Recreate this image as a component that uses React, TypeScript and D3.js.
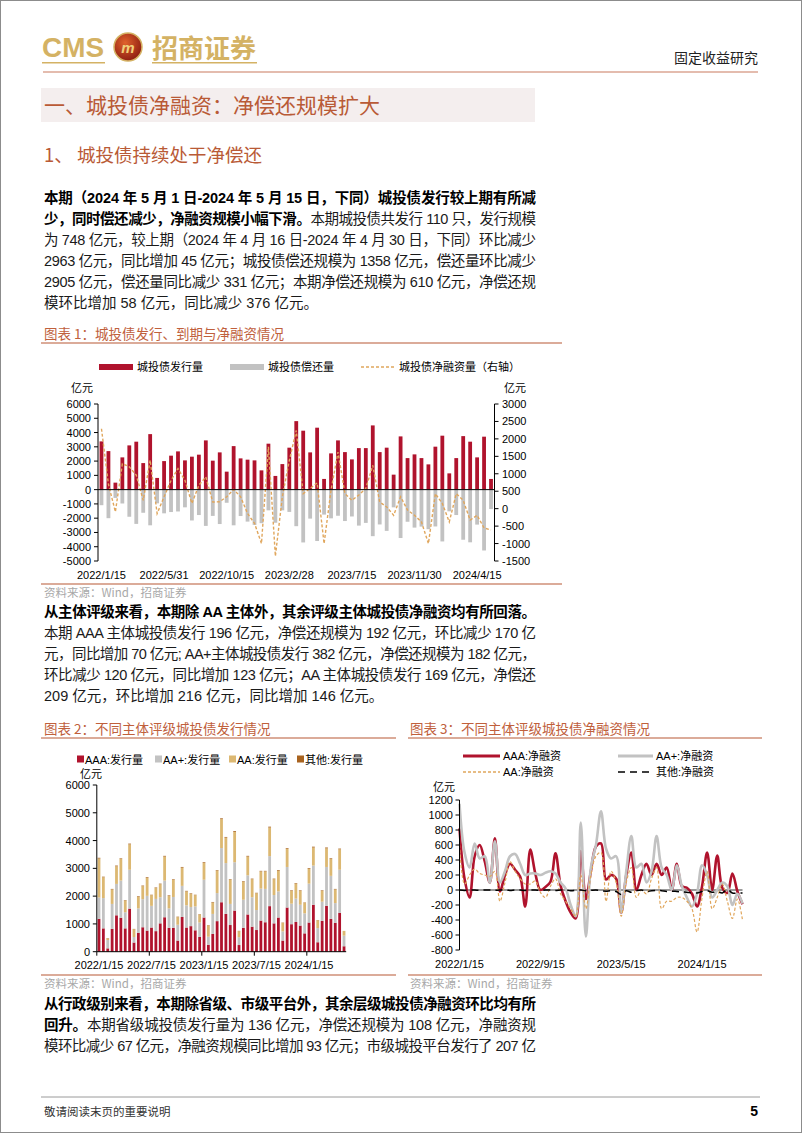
import React from 'react'
import * as d3 from 'd3'

// semi-monthly periods, 2022/1/15 .. 2024/5/15
const periods = [
  '2022/1/15', '2022/1/31', '2022/2/15', '2022/2/28', '2022/3/15', '2022/3/31', '2022/4/15', '2022/4/30',
  '2022/5/15', '2022/5/31', '2022/6/15', '2022/6/30', '2022/7/15', '2022/7/31', '2022/8/15', '2022/8/31',
  '2022/9/15', '2022/9/30', '2022/10/15', '2022/10/31', '2022/11/15', '2022/11/30', '2022/12/15', '2022/12/31',
  '2023/1/15', '2023/1/31', '2023/2/15', '2023/2/28', '2023/3/15', '2023/3/31', '2023/4/15', '2023/4/30',
  '2023/5/15', '2023/5/31', '2023/6/15', '2023/6/30', '2023/7/15', '2023/7/31', '2023/8/15', '2023/8/31',
  '2023/9/15', '2023/9/30', '2023/10/15', '2023/10/31', '2023/11/15', '2023/11/30', '2023/12/15', '2023/12/31',
  '2024/1/15', '2024/1/31', '2024/2/15', '2024/2/29', '2024/3/15', '2024/3/31', '2024/4/15', '2024/4/30',
  '2024/5/15',
]

// chart 1: issuance / repayment (left axis), net financing (right axis)
const issue = [3380, 2700, 490, 2260, 3100, 3360, 1860, 3890, 820, 2000, 2380, 2680, 2050, 2310, 2450, 3450, 2030, 2610, 1260, 3050,
  2190, 2100, 2050, 1350, 3220, 960, 1790, 2940, 4800, 4130, 2610, 4340, 750, 2540, 3450, 2630, 2120, 2910, 2910, 4500,
  2630, 2940, 1050, 3730, 2210, 2470, 2210, 1770, 3010, 3780, 1140, 2210, 3750, 3360, 2260, 3711, 748]
const repay = [1090, 2000, 580, 970, 1900, 2400, 1620, 2500, 960, 1660, 1570, 1530, 1240, 2160, 1780, 2540, 1840, 2410, 920, 2500,
  1850, 2240, 2470, 2350, 1450, 2320, 1450, 1560, 2560, 3700, 2030, 3600, 1750, 2010, 1830, 2200, 1880, 2520, 2330, 3260,
  2440, 2890, 1240, 3390, 2250, 2660, 2590, 2770, 2580, 3630, 1520, 1780, 3510, 3690, 2450, 4263, 1358]
const net = [2290, 700, -90, 1290, 1200, 960, 240, 1390, -140, 340, 810, 1150, 810, 150, 670, 910, 190, 200, 340, 550,
  340, -140, -420, -1000, 1770, -1360, 340, 1380, 2240, 430, 580, 740, -1000, 530, 1620, 430, 240, 390, 580, 1240,
  190, 50, -190, 340, -40, -190, -380, -1000, 430, 150, -380, 430, 240, -330, -190, -552, -610]

// chart 2: issuance by issuer rating
const aaaIssue = [1180, 840, 120, 820, 1310, 1220, 840, 1550, 330, 680, 880, 760, 870, 740, 1020, 1240, 860, 860, 400, 1250,
  870, 920, 770, 530, 1230, 250, 640, 1100, 1780, 1360, 960, 1480, 240, 860, 1340, 900, 780, 1120, 1060, 1640,
  1020, 1230, 400, 1590, 990, 1070, 940, 660, 1050, 1690, 340, 1110, 1650, 1180, 1040, 1400, 196]
const aaPlusIssue = [770, 1090, 300, 900, 1130, 1340, 580, 1400, 200, 880, 1010, 1250, 780, 1160, 940, 1320, 700, 1110, 570, 1120,
  800, 690, 860, 520, 1360, 290, 720, 1010, 1950, 1830, 760, 1740, 280, 1010, 1410, 1060, 720, 1150, 1200, 1800,
  1020, 940, 330, 1460, 740, 840, 750, 720, 1400, 1410, 510, 690, 1400, 1550, 710, 1550, 382]
const aaIssue = [1405, 750, 60, 520, 635, 780, 425, 915, 280, 420, 470, 645, 385, 390, 470, 865, 450, 620, 275, 655,
  500, 470, 405, 285, 605, 410, 410, 810, 1040, 915, 870, 1090, 220, 650, 675, 650, 605, 620, 630, 1030,
  570, 745, 310, 655, 460, 540, 500, 375, 535, 650, 280, 390, 670, 605, 490, 736, 169]
const otherIssue = [25, 20, 10, 20, 25, 20, 15, 25, 10, 20, 20, 25, 15, 20, 20, 25, 20, 20, 15, 25,
  20, 20, 15, 15, 25, 10, 20, 20, 30, 25, 20, 30, 10, 20, 25, 20, 15, 20, 20, 30,
  20, 25, 10, 25, 20, 20, 20, 15, 25, 30, 10, 20, 30, 25, 20, 25, 1]

// chart 3: net financing by issuer rating
const aaaNet = [820, 150, -100, 450, 600, 380, 100, 690, -20, 200, 350, 270, 180, -220, 540, 220, 0, 40, 110, 490,
  60, -150, -300, -380, 520, -120, 250, 580, 620, 140, 200, 150, -300, 200, 500, 0, 200, 350, 200, 350,
  200, 300, 0, 350, 50, 30, -50, -220, 50, 500, 0, 460, 30, -40, 220, -20, -190]
const aaPlusNet = [1150, 500, 300, 620, 420, 450, 100, 650, 100, 250, 450, 480, 350, 200, 220, 220, 200, 230, 250, 220,
  100, 20, -200, -350, 900, -620, 300, 600, 1050, 550, 420, 450, -300, 250, 720, 300, 350, 100, 250, 720,
  300, 200, 0, 330, 50, -100, -220, -50, 330, 200, -100, 0, 100, 50, -200, -50, -182]
const aaNet = [600, 80, 200, 280, 220, 200, 180, 250, -150, 100, 380, 250, 150, 80, 80, 120, -30, -100, 50, 150,
  -50, -150, -250, -350, 200, -250, 200, 450, 500, -150, 250, 100, -350, 100, 300, -100, 0, -50, 150, 300,
  -250, -150, -150, -100, -100, -150, -250, -560, -100, 250, -250, -100, 80, -150, -380, -120, -400]
const otherNet = [0, -5, 0, 0, -5, 0, 0, -5, 0, 0, -5, 0, 0, -5, 0, 0, -5, 0, 0, -5,
  0, 0, -10, -5, 0, -10, -5, 0, -10, -15, -10, -20, -60, -10, -30, -10, 0, -20, -10, -5,
  -10, -20, -15, -20, -25, -30, -40, -40, -20, -10, -30, -20, -40, 10, -40, -40, -40]

// tick labels
const c1Dates = ['2022/1/15', '2022/5/31', '2022/10/15', '2023/2/28', '2023/7/15', '2023/11/30', '2024/4/15']
const c2Dates = ['2022/1/15', '2022/7/15', '2023/1/15', '2023/7/15', '2024/1/15']
const c3Dates = ['2022/1/15', '2022/9/15', '2023/5/15', '2024/1/15']
const c1Left = [6000, 5000, 4000, 3000, 2000, 1000, 0, -1000, -2000, -3000, -4000, -5000]
const c1Right = [3000, 2500, 2000, 1500, 1000, 500, 0, -500, -1000, -1500]
const c2Ticks = [0, 1000, 2000, 3000, 4000, 5000, 6000]
const c3Ticks = [1200, 1000, 800, 600, 400, 200, 0, -200, -400, -600, -800]

const SANS = '"Liberation Sans", "Noto Sans CJK SC", sans-serif'
const CJK = '"Noto Sans CJK SC", "Liberation Sans", sans-serif'
const GOLD = '#d4b264'
const RUST = '#b95a36'
const RED = '#b0132d'
const GREY = '#c2c2c2'
const TAN = '#dcb872'
const BROWN = '#a8631f'
const DASH = '#e0a65c'
const RULE = '#cf8f77'

const idx = d3.range(periods.length)

type Part = [string, boolean?]
function TextLine({ x, y, parts, w }: { x: number; y: number; parts: Part[]; w?: number }) {
  return (
    <text x={x} y={y} fontSize={14.5} fontFamily={SANS} fill="#1a1a1a" dominantBaseline="central"
      {...(w ? { textLength: w, lengthAdjust: 'spacing' } : {})}>
      {parts.map(([t, b], i) => (
        <tspan key={i} fontWeight={b ? 'bold' : 'normal'} fill={b ? '#000' : '#1a1a1a'}>{t}</tspan>
      ))}
    </text>
  )
}

function Chart1() {
  const x = d3.scaleBand<number>().domain(idx).range([98, 494.5])
  const cx = (i: number) => (x(i) as number) + x.bandwidth() / 2
  const y = d3.scaleLinear().domain([-5000, 6000]).range([561, 404])
  const yr = d3.scaleLinear().domain([-1500, 3000]).range([561, 404])
  const netPath = d3.line<number>().x((_, i) => cx(i)).y(d => yr(d))(net) as string
  const bw = 3.8
  return (
    <g fontFamily={SANS} fontSize={11} fill="#000">
      {/* legend */}
      <rect x={99} y={364} width={34} height={6} fill={RED} />
      <text x={137} y={367} dominantBaseline="central">城投债发行量</text>
      <rect x={230} y={364} width={34} height={6} fill={GREY} />
      <text x={268} y={367} dominantBaseline="central">城投债偿还量</text>
      <line x1={361} x2={395} y1={367} y2={367} stroke={DASH} strokeWidth={1.3} strokeDasharray="3,2" />
      <text x={399} y={367} dominantBaseline="central">城投债净融资量（右轴）</text>
      <text x={82} y={388} textAnchor="middle" dominantBaseline="central">亿元</text>
      <text x={515} y={388} textAnchor="middle" dominantBaseline="central">亿元</text>

      {idx.map(i => (
        <rect key={'r' + i} x={cx(i) - bw / 2} y={y(issue[i])} width={bw} height={y(0) - y(issue[i])} fill={RED} />
      ))}
      {idx.map(i => (
        <rect key={'g' + i} x={cx(i) - bw / 2} y={y(0)} width={bw} height={y(-repay[i]) - y(0)} fill={GREY} />
      ))}
      <path d={netPath} fill="none" stroke={DASH} strokeWidth={1.4} strokeDasharray="3,2" />

      {/* axes */}
      <line x1={98} x2={98} y1={404} y2={561} stroke="#000" />
      {c1Left.map(t => (
        <g key={'l' + t}>
          <line x1={94} x2={98} y1={y(t)} y2={y(t)} stroke="#000" />
          <text x={91} y={y(t)} textAnchor="end" dominantBaseline="central">{t}</text>
        </g>
      ))}
      <line x1={494.5} x2={494.5} y1={404} y2={561} stroke="#000" />
      {c1Right.map(t => (
        <g key={'rt' + t}>
          <line x1={494.5} x2={498.5} y1={yr(t)} y2={yr(t)} stroke="#000" />
          <text x={502} y={yr(t)} dominantBaseline="central">{t}</text>
        </g>
      ))}
      <line x1={98} x2={494.5} y1={y(0)} y2={y(0)} stroke="#000" />
      {c1Dates.map(d => (
        <text key={d} x={cx(periods.indexOf(d))} y={575} textAnchor="middle" dominantBaseline="central">{d}</text>
      ))}
    </g>
  )
}

function Chart2() {
  const x = d3.scaleBand<number>().domain(idx).range([96.8, 346.2])
  const cx = (i: number) => (x(i) as number) + x.bandwidth() / 2
  const y = d3.scaleLinear().domain([0, 6000]).range([951.7, 785])
  const stack = d3.stack<number>()
    .keys(['aaa', 'aaPlus', 'aa', 'other'])
    .value((i, k) => ({ aaa: aaaIssue, aaPlus: aaPlusIssue, aa: aaIssue, other: otherIssue } as any)[k][i])(idx)
  const colors = [RED, GREY, TAN, BROWN]
  const legend = [['AAA:发行量', 77], ['AA+:发行量', 155], ['AA:发行量', 229], ['其他:发行量', 297]] as const
  const bw = 2.8
  return (
    <g fontFamily={SANS} fontSize={11} fill="#000">
      {legend.map(([t, lx], k) => (
        <g key={t}>
          <rect x={lx} y={755.5} width={7} height={7} fill={colors[k]} />
          <text x={lx + 8} y={759.5} dominantBaseline="central">{t}</text>
        </g>
      ))}
      <text x={91} y={774} textAnchor="middle" dominantBaseline="central">亿元</text>
      {stack.map((s, k) => s.map((d, i) => (
        <rect key={k + '-' + i} x={cx(i) - bw / 2} y={y(d[1])} width={bw} height={Math.max(0, y(d[0]) - y(d[1]))} fill={colors[k]} />
      )))}
      <line x1={96.8} x2={96.8} y1={785} y2={951.7} stroke="#000" />
      {c2Ticks.map(t => (
        <g key={t}>
          <line x1={92.8} x2={96.8} y1={y(t)} y2={y(t)} stroke="#000" />
          <text x={90} y={y(t)} textAnchor="end" dominantBaseline="central">{t}</text>
        </g>
      ))}
      <line x1={96.8} x2={346.2} y1={951.7} y2={951.7} stroke="#000" />
      {c2Dates.map(d => {
        const i = periods.indexOf(d)
        return (
          <g key={d}>
            <line x1={x(i)} x2={x(i)} y1={951.7} y2={955.7} stroke="#000" />
            <text x={cx(i)} y={965} textAnchor="middle" dominantBaseline="central">{d}</text>
          </g>
        )
      })}
    </g>
  )
}

function Chart3() {
  const x = d3.scalePoint<number>().domain(idx).range([459.5, 742.5])
  const y = d3.scaleLinear().domain([-800, 1200]).range([950, 800])
  const line = d3.line<number>().x((_, i) => x(i) as number).y(d => y(d)).curve(d3.curveCatmullRom.alpha(0.5))
  return (
    <g fontFamily={SANS} fontSize={11} fill="#000">
      <line x1={463} x2={500} y1={756} y2={756} stroke={RED} strokeWidth={3} />
      <text x={503} y={756} dominantBaseline="central">AAA:净融资</text>
      <line x1={618} x2={653} y1={756} y2={756} stroke={GREY} strokeWidth={3} />
      <text x={656} y={756} dominantBaseline="central">AA+:净融资</text>
      <line x1={463} x2={500} y1={772} y2={772} stroke={DASH} strokeWidth={1.3} strokeDasharray="3,2" />
      <text x={503} y={772} dominantBaseline="central">AA:净融资</text>
      <line x1={618} x2={653} y1={772} y2={772} stroke="#000" strokeWidth={1.6} strokeDasharray="7,5" />
      <text x={656} y={772} dominantBaseline="central">其他:净融资</text>
      <text x={444} y={787} textAnchor="middle" dominantBaseline="central">亿元</text>

      <line x1={459.5} x2={742.5} y1={y(0)} y2={y(0)} stroke="#000" strokeWidth={0.8} />
      <path d={line(aaaNet) as string} fill="none" stroke={RED} strokeWidth={2.6} />
      <path d={line(aaPlusNet) as string} fill="none" stroke={GREY} strokeWidth={2.6} />
      <path d={line(aaNet) as string} fill="none" stroke={DASH} strokeWidth={1.2} strokeDasharray="3,2" />
      <path d={line(otherNet) as string} fill="none" stroke="#000" strokeWidth={1.5} strokeDasharray="7,5" />

      <line x1={459.5} x2={459.5} y1={800} y2={950} stroke="#000" />
      {c3Ticks.map(t => (
        <g key={t}>
          <line x1={455.5} x2={459.5} y1={y(t)} y2={y(t)} stroke="#000" />
          <text x={453} y={y(t)} textAnchor="end" dominantBaseline="central">{t}</text>
        </g>
      ))}
      {c3Dates.map(d => (
        <text key={d} x={x(periods.indexOf(d)) as number} y={964} textAnchor="middle" dominantBaseline="central">{d}</text>
      ))}
    </g>
  )
}

export default function App() {
  return (
    <div style={{ position: 'absolute', left: 0, top: 0 }}>
      <svg width={802} height={1133} style={{ display: 'block', background: '#fff' }}>
        <rect x={0.5} y={0.5} width={801} height={1132} fill="#fff" stroke="#8c8c8c" />

        {/* header */}
        <text x={42} y={47} fontSize={28} fontFamily={SANS} fontWeight="bold" fill={GOLD} dominantBaseline="central" textLength={62} lengthAdjust="spacingAndGlyphs">CMS</text>
        <rect x={42} y={62} width={63} height={1.5} fill={GOLD} />
        <defs>
          <radialGradient id="emb" cx="40%" cy="35%" r="70%">
            <stop offset="0%" stopColor="#e0622c" />
            <stop offset="100%" stopColor="#8a1a10" />
          </radialGradient>
        </defs>
        <circle cx={128} cy={47} r={14} fill="url(#emb)" stroke={GOLD} strokeWidth={1.5} />
        <text x={128} y={47} fontSize={15} fontFamily={SANS} fontWeight="bold" fontStyle="italic" fill="#f0cf7a" textAnchor="middle" dominantBaseline="central">m</text>
        <text x={152} y={46} fontSize={26} fontFamily={CJK} fontWeight="bold" fill={GOLD} dominantBaseline="central" textLength={104}>招商证券</text>
        <rect x={152} y={62} width={105} height={1.5} fill={GOLD} />
        <text x={758} y={57} fontSize={14} fontFamily={CJK} fill="#222" textAnchor="end" dominantBaseline="central">固定收益研究</text>
        <line x1={43} x2={758} y1={72} y2={72} stroke="#c97b5f" strokeWidth={1.2} />

        <rect x={41} y={88} width={494} height={34} fill="#f4eeee" />
        <text x={44} y={104} fontSize={21} fontFamily={CJK} fill={RUST} dominantBaseline="central">一、城投债净融资：净偿还规模扩大</text>
        <text x={44} y={154} fontSize={18.5} fontFamily={CJK} fill={RUST} dominantBaseline="central">1、  城投债持续处于净偿还</text>

        <TextLine x={44} y={198} w={492} parts={[['本期（2024 年 5 月 1 日-2024 年 5 月 15 日，下同）城投债发行较上期有所减', true]]} />
        <TextLine x={44} y={219} w={492} parts={[['少，同时偿还减少，净融资规模小幅下滑。', true], ['本期城投债共发行 110 只，发行规模']]} />
        <TextLine x={44} y={240} w={492} parts={[['为 748 亿元，较上期（2024 年 4 月 16 日-2024 年 4 月 30 日，下同）环比减少']]} />
        <TextLine x={44} y={261} w={492} parts={[['2963 亿元，同比增加 45 亿元；城投债偿还规模为 1358 亿元，偿还量环比减少']]} />
        <TextLine x={44} y={282} w={492} parts={[['2905 亿元，偿还量同比减少 331 亿元；本期净偿还规模为 610 亿元，净偿还规']]} />
        <TextLine x={44} y={303} parts={[['模环比增加 58 亿元，同比减少 376 亿元。']]} />

        <text x={44} y={333} fontSize={13.5} fontFamily={CJK} fill="#c0603c" dominantBaseline="central">图表 1：城投债发行、到期与净融资情况</text>
        <line x1={41} x2={562} y1={343} y2={343} stroke={RULE} strokeWidth={1.3} />
        <Chart1 />
        <line x1={41} x2={562} y1={584} y2={584} stroke={RULE} strokeWidth={1.5} />
        <text x={44} y={592} fontSize={11.5} fontFamily={CJK} fill="#a8a8a8" dominantBaseline="central">资料来源：Wind，招商证券</text>

        <TextLine x={44} y={612} w={492} parts={[['从主体评级来看，本期除 AA 主体外，其余评级主体城投债净融资均有所回落。', true]]} />
        <TextLine x={44} y={633} w={492} parts={[['本期 AAA 主体城投债发行 196 亿元，净偿还规模为 192 亿元，环比减少 170 亿']]} />
        <TextLine x={44} y={654} w={492} parts={[['元，同比增加 70 亿元; AA+主体城投债发行 382 亿元，净偿还规模为 182 亿元，']]} />
        <TextLine x={44} y={675} w={492} parts={[['环比减少 120 亿元，同比增加 123 亿元；AA 主体城投债发行 169 亿元，净偿还']]} />
        <TextLine x={44} y={696} parts={[['209 亿元，环比增加 216 亿元，同比增加 146 亿元。']]} />

        <text x={44} y={728} fontSize={13.5} fontFamily={CJK} fill="#c0603c" dominantBaseline="central">图表 2：不同主体评级城投债发行情况</text>
        <line x1={41} x2={396} y1={738} y2={738} stroke={RULE} strokeWidth={1.3} />
        <Chart2 />
        <line x1={41} x2={396} y1={975} y2={975} stroke={RULE} strokeWidth={1.3} />
        <text x={44} y={983} fontSize={11.5} fontFamily={CJK} fill="#a8a8a8" dominantBaseline="central">资料来源：Wind，招商证券</text>

        <text x={410} y={728} fontSize={13.5} fontFamily={CJK} fill="#c0603c" dominantBaseline="central">图表 3：不同主体评级城投债净融资情况</text>
        <line x1={408} x2={762} y1={738} y2={738} stroke={RULE} strokeWidth={1.3} />
        <Chart3 />
        <line x1={408} x2={762} y1={975} y2={975} stroke={RULE} strokeWidth={1.3} />
        <text x={410} y={983} fontSize={11.5} fontFamily={CJK} fill="#a8a8a8" dominantBaseline="central">资料来源：Wind，招商证券</text>

        <TextLine x={44} y={1004} w={492} parts={[['从行政级别来看，本期除省级、市级平台外，其余层级城投债净融资环比均有所', true]]} />
        <TextLine x={44} y={1025} w={492} parts={[['回升。', true], ['本期省级城投债发行量为 136 亿元，净偿还规模为 108 亿元，净融资规']]} />
        <TextLine x={44} y={1046} w={492} parts={[['模环比减少 67 亿元，净融资规模同比增加 93 亿元；市级城投平台发行了 207 亿']]} />

        <line x1={41} x2={760} y1={1097} y2={1097} stroke="#9a9a9a" />
        <text x={44} y={1111} fontSize={11.5} fontFamily={CJK} fill="#333" dominantBaseline="central">敬请阅读末页的重要说明</text>
        <text x={758} y={1111} fontSize={14} fontFamily={SANS} fontWeight="bold" fill="#000" textAnchor="end" dominantBaseline="central">5</text>
      </svg>
    </div>
  )
}
